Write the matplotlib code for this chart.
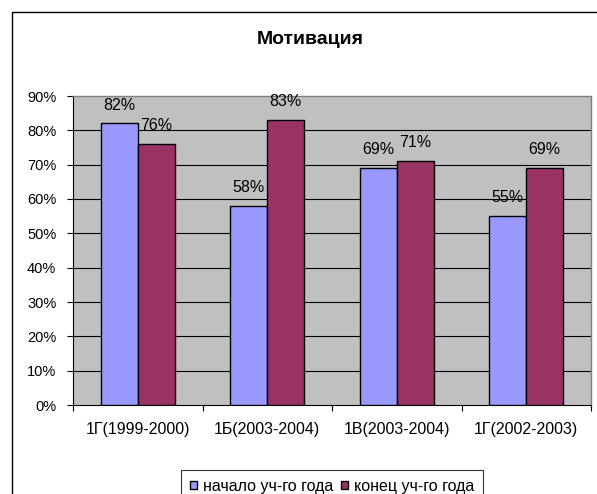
import matplotlib
matplotlib.use("Agg")
import matplotlib.pyplot as plt
import numpy as np
from matplotlib.patches import Rectangle

plt.rcParams['font.family'] = ['Liberation Sans', 'DejaVu Sans']

# data
groups = ["1Г(1999-2000)", "1Б(2003-2004)", "1В(2003-2004)", "1Г(2002-2003)"]
start_year = [0.82, 0.58, 0.69, 0.55]
end_year = [0.76, 0.83, 0.71, 0.69]
series_names = ["начало уч-го года", "конец уч-го года"]
yticks = [0.0, 0.1, 0.2, 0.3, 0.4, 0.5, 0.6, 0.7, 0.8, 0.9]

W, H = 597, 494
fig = plt.figure(figsize=(W / 100, H / 100), dpi=100)

# outer chart border (runs off right and bottom)
fig.patches.append(Rectangle((12 / W, -0.1), 1.2, (H - 12) / H + 0.1,
                             transform=fig.transFigure, fill=False,
                             edgecolor="black", linewidth=1.0))

ax = fig.add_axes([73 / W, (H - 405) / H, (591 - 73) / W, (405 - 96) / H])
ax.set_facecolor("#C0C0C0")

x = np.arange(len(groups))
w = 1 / 3.5
b1 = ax.bar(x - w / 2, start_year, w, color="#9999FF", edgecolor="black",
            linewidth=1.0, label=series_names[0], zorder=3)
b2 = ax.bar(x + w / 2, end_year, w, color="#993366", edgecolor="black",
            linewidth=1.0, label=series_names[1], zorder=3)

for bars, vals in ((b1, start_year), (b2, end_year)):
    for r, v in zip(bars, vals):
        ax.annotate("%d%%" % round(v * 100), (r.get_x() + r.get_width() / 2, v),
                    xytext=(0, 10), textcoords="offset points",
                    ha="center", va="baseline", fontsize=11.5, zorder=4)

ax.set_xlim(-0.5, 3.5)
ax.set_ylim(0, 0.9)
ax.set_yticks(yticks)
ax.set_yticklabels(["%d%%" % round(t * 100) for t in yticks])
for t in yticks[1:-1]:
    ax.axhline(t, color="black", linewidth=0.8, zorder=1)

ax.set_xticks(x)
ax.set_xticklabels(groups)
ax.set_xticks(np.arange(-0.5, 4.0, 1.0), minor=True)
ax.tick_params(axis="x", which="major", length=0, pad=12, labelsize=11.5)
ax.tick_params(axis="x", which="minor", length=4, width=0.8, direction="out")
ax.tick_params(axis="y", length=4, width=0.8, direction="out", pad=8, labelsize=10.5)

for s in ("top", "right"):
    ax.spines[s].set_color("#808080")
    ax.spines[s].set_linewidth(1.0)
for s in ("left", "bottom"):
    ax.spines[s].set_color("black")
    ax.spines[s].set_linewidth(0.8)

fig.text(310 / W, 1 - 40 / H, "Мотивация", ha="center", va="center",
         fontsize=14, fontweight="bold")

leg = fig.legend(handles=[b1, b2], loc="upper center", ncol=2,
                 bbox_to_anchor=(332 / W, 1 - 470 / H), fontsize=11.5,
                 frameon=True, fancybox=False, edgecolor="black",
                 handlelength=0.45, handleheight=0.45, handletextpad=0.35,
                 columnspacing=0.5, borderpad=0.55, borderaxespad=0)
leg.get_frame().set_linewidth(0.8)

fig.savefig("out.png", dpi=100)
